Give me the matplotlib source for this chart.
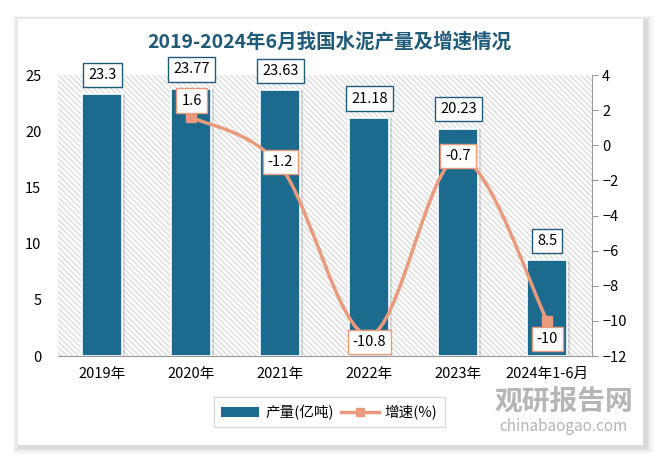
import numpy as np
import matplotlib.pyplot as plt
from matplotlib.patches import Rectangle, PathPatch, Patch
from matplotlib.path import Path
from matplotlib.lines import Line2D

plt.rcParams['font.family'] = ['Noto Sans CJK SC', 'DejaVu Sans']

years = ['2019年', '2020年', '2021年', '2022年', '2023年', '2024年1-6月']
output = [23.3, 23.77, 23.63, 21.18, 20.23, 8.5]
growth_idx = [1, 2, 3, 4, 5]
growth = [1.6, -1.2, -10.8, -0.7, -10]
# label offsets (points) for growth labels
growth_off = [(0, 12), (0, 3), (0, -5), (0, 1), (0, -13)]

bar_c = '#1c6b8e'
line_c = '#ea9a7c'
title_c = '#1f5a79'

fig = plt.figure(figsize=(6.59, 4.58), dpi=100)

# card with soft shadow
for i, a in enumerate([0.04, 0.05, 0.06]):
    d = (3 - i) * 0.004
    fig.patches.append(Rectangle((0.027 - d + 0.004, 0.028 - d - 0.004), 0.948 + 2 * d, 0.93 + 2 * d,
                                 transform=fig.transFigure, facecolor='black', alpha=a, edgecolor='none', zorder=0))
fig.patches.append(Rectangle((0.027, 0.028), 0.948, 0.93, transform=fig.transFigure,
                             facecolor='white', edgecolor='none', zorder=1))

ax = fig.add_axes([0.088, 0.2227, 0.81, 0.6135])
ax.set_zorder(2)
ax.patch.set_facecolor('white')
ax.patch.set_hatch('\\\\\\\\\\\\')
ax.patch.set_edgecolor('#dcdcdc')
ax.patch.set_linewidth(0)

x = np.arange(len(years))
ax.bar(x + 0.03, output, width=0.45, color='#000000', alpha=0.12, zorder=2)
bars = ax.bar(x, output, width=0.45, color=bar_c, edgecolor='white', linewidth=1.2, zorder=3)
for xi, v in zip(x, output):
    ax.annotate(f'{v:g}', (xi, v), xytext=(0, 14), textcoords='offset points', ha='center', va='center',
                fontsize=10.5, zorder=6,
                bbox=dict(boxstyle='square,pad=0.35', fc='white', ec=title_c, lw=1))

ax.set_xlim(-0.5, len(years) - 0.5)
ax.set_ylim(0, 25)
ax.set_yticks(range(0, 26, 5))
ax.set_xticks(x)
ax.set_xticklabels(years, fontsize=10.5)
ax.tick_params(axis='y', length=0, labelsize=10.5, pad=12)
ax.tick_params(axis='x', length=0, labelsize=10.5, pad=8)
for s in ['top', 'left', 'right']:
    ax.spines[s].set_visible(False)
ax.spines['bottom'].set_color('#999999')

ax2 = ax.twinx()
ax2.set_ylim(-12, 4)
ax2.set_yticks(range(-12, 5, 2))
ax2.tick_params(axis='y', direction='out', length=4, color='#999999', labelsize=10.5)
for s in ['top', 'left', 'bottom']:
    ax2.spines[s].set_visible(False)
ax2.spines['right'].set_color('#999999')

# smooth line through the growth points (Catmull-Rom as cubic Bezier)
px = np.array(growth_idx, dtype=float)
py = np.array(growth, dtype=float)
pts = np.column_stack([px, py])
verts = [pts[0]]
codes = [Path.MOVETO]
for i in range(len(pts) - 1):
    p0 = pts[max(i - 1, 0)]
    p1 = pts[i]
    p2 = pts[i + 1]
    p3 = pts[min(i + 2, len(pts) - 1)]
    verts += [p1 + (p2 - p0) / 6, p2 - (p3 - p1) / 6, p2]
    codes += [Path.CURVE4] * 3
ax2.add_patch(PathPatch(Path(verts, codes), fc='none', ec=line_c, lw=2.5, zorder=4))
ax2.plot(px, py, ls='none', marker='s', ms=7, color=line_c, zorder=5)
for xi, v, off in zip(px, py, growth_off):
    ax2.annotate(f'{v:g}', (xi, v), xytext=off, textcoords='offset points', ha='center', va='center',
                 fontsize=10.5, zorder=6,
                 bbox=dict(boxstyle='square,pad=0.35', fc='white', ec=line_c, lw=1))

fig.text(0.5, 0.908, '2019-2024年6月我国水泥产量及增速情况', ha='center', va='center',
         fontsize=14, color=title_c, fontweight='bold', zorder=3)

handles = [Patch(facecolor=bar_c, edgecolor='none'),
           Line2D([0], [0], color=line_c, lw=2.5, marker='s', ms=6)]
leg = fig.legend(handles, ['产量(亿吨)', '增速(%)'], loc='center', bbox_to_anchor=(0.5, 0.1),
                 ncol=2, fontsize=10.5, frameon=True, fancybox=False, edgecolor='#d0d0d0',
                 handlelength=2.6, handletextpad=0.4, columnspacing=0.5, borderpad=0.5)
leg.set_zorder(5)

fig.text(0.855, 0.123, '观研报告网', ha='center', va='center', fontsize=20, fontweight='bold',
         color='#b5b5b5', zorder=3)
fig.text(0.855, 0.068, 'chinabaogao.com', ha='center', va='center', fontsize=11,
         color='#b5b5b5', zorder=3)

fig.savefig('out.png', dpi=100)
